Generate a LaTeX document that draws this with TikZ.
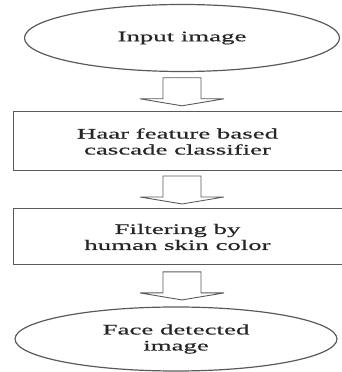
\documentclass[tikz,border=0pt]{standalone}
\usepackage{fontspec}
\setmainfont[FakeStretch=1.85,FakeBold=0.6]{Liberation Serif}
\usepackage{tikz}
\usetikzlibrary{calc,shapes.geometric}
\definecolor{FlowGray}{HTML}{5A5A5A}
\definecolor{FlowText}{HTML}{262626}

\tikzset{
  stage/.style={draw=FlowGray,line width=1pt,align=center,text=FlowText,
    font=\fontsize{14.5}{16}\selectfont},
  endstage/.style={stage,ellipse,line width=1.2pt,inner sep=0pt},
  boxstage/.style={stage,rectangle,inner sep=0pt},
  arrowline/.style={draw=FlowGray,line width=0.9pt,line join=miter},
  flowarrow/.pic={
    \draw[arrowline] (-19,14) -- (-19,-7) -- (-42,-7) -- (0,-14) -- (42,-7) -- (19,-7) -- (19,14) -- cycle;
  }
}

\begin{document}
\begin{tikzpicture}[x=1pt,y=1pt]
  \useasboundingbox (0,0) rectangle (342,372);
  % stages
  \node[endstage,minimum width=315pt,minimum height=67pt] (in) at (182,334) {Input image};
  \node[boxstage,minimum width=329pt,minimum height=59pt] (haar) at (177.5,230.5) {Haar feature based\\cascade classifier};
  \node[boxstage,minimum width=329pt,minimum height=56pt] (filt) at (177.5,135) {Filtering by\\human skin color};
  \node[endstage,minimum width=322pt,minimum height=64pt] (face) at (176,33) {Face detected\\image};
  % block arrows between stages
  \coordinate (m1) at ($(in.south)!0.5!(haar.north)$);
  \coordinate (m2) at ($(haar.south)!0.5!(filt.north)$);
  \coordinate (m3) at ($(filt.south)!0.5!(face.north)$);
  \pic at (m1 -| in.center) {flowarrow};
  \pic at (m2 -| in.center) {flowarrow};
  \pic at (m3 -| in.center) {flowarrow};
\end{tikzpicture}
\end{document}
